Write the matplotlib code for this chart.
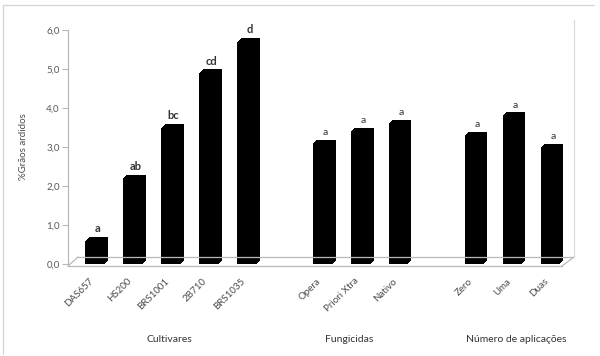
import numpy as np
import matplotlib.pyplot as plt
from matplotlib.lines import Line2D
from matplotlib.transforms import offset_copy

plt.rcParams['font.family'] = ['Lato', 'DejaVu Sans']

# Data
labels = ['DAS657', 'HS200', 'BRS1001', '2B710', 'BRS1035',
          'Opera', 'Priori Xtra', 'Nativo',
          'Zero', 'Uma', 'Duas']
positions = [0, 1, 2, 3, 4, 6, 7, 8, 10, 11, 12]
values = [0.6, 2.2, 3.5, 4.9, 5.7,
          3.1, 3.4, 3.6,
          3.3, 3.8, 3.0]
letters = ['a', 'ab', 'bc', 'cd', 'd',
           'a', 'a', 'a',
           'a', 'a', 'a']
groups = ['Cultivares', 'Fungicidas', 'Número de aplicações']
group_centers = [1.95, 6.7, 11.1]
yticks = [0, 1, 2, 3, 4, 5, 6]

W, H = 600, 356
fig = plt.figure(figsize=(6, 3.56), dpi=100)
ax_l, ax_r, ax_t, ax_b = 68, 573, 30, 264
ax = fig.add_axes([ax_l / W, 1 - ax_b / H, (ax_r - ax_l) / W, (ax_b - ax_t) / H])
ax.set_facecolor('none')

gray = '#b8b8b8'
txt = '#595959'

# 3D-like bars: stacked offset copies give a diagonal extrusion
for d in [3.5, 3, 2.5, 2, 1.5, 1, 0.5, 0]:
    tr = offset_copy(ax.transData, fig=fig, x=d, y=d, units='dots')
    ax.bar(positions, values, width=0.5, color='black', transform=tr, zorder=3)

for x, v, s in zip(positions, values, letters):
    big = x < 5
    ax.annotate(s, (x, v), xytext=(2, 4.5), textcoords='offset points',
                ha='center', va='bottom', fontsize=8 if big else 7.5,
                fontweight='bold' if big else 'normal', color='#333333', zorder=5)

ax.set_xlim(-0.71, 12.6)
ax.set_ylim(0, 6)
ax.set_yticks(yticks)
ax.set_yticklabels(['%d,0' % t for t in yticks])
ax.tick_params(axis='y', length=4, width=0.8, color=gray, pad=2,
               labelsize=7, labelcolor=txt)

ax.set_xticks(positions)
ax.set_xticklabels(labels, rotation=45, ha='right', va='top')
ax.tick_params(axis='x', length=0, pad=9, labelsize=7, labelcolor='#4a4a4a')

for side in ['top', 'right', 'bottom']:
    ax.spines[side].set_visible(False)
ax.spines['left'].set_color(gray)
ax.spines['left'].set_linewidth(0.9)

ax.set_ylabel('%Grãos ardidos', fontsize=7, color='#4a4a4a')
ax.yaxis.set_label_coords(-(ax_l - 28) / (ax_r - ax_l), 0.5)

for gx, g in zip(group_centers, groups):
    ax.text(gx, -(340 - ax_b) / (ax_b - ax_t), g, transform=ax.get_xaxis_transform(),
            ha='center', va='center', fontsize=7.5, color='#333333')

# floor and back wall edge (pixel geometry)
def fx(px):
    return px / W

def fy(py):
    return 1 - py / H

floor_front = 266
floor_back = 257
for xs, ys, c in [
    ([68, 562], [floor_front, floor_front], gray),
    ([78, 574], [floor_back, floor_back], gray),
    ([68, 78], [floor_front, floor_back], gray),
    ([562, 574], [floor_front, floor_back], gray),
    ([574, 574], [floor_back, 20], '#dcdcdc'),
    ([3, 594], [5, 5], '#d4d4d4'),
    ([3, 3], [5, 354], '#d4d4d4'),
]:
    fig.add_artist(Line2D([fx(p) for p in xs], [fy(p) for p in ys],
                          color=c, lw=0.9, transform=fig.transFigure))

fig.savefig('out.png', dpi=100)
